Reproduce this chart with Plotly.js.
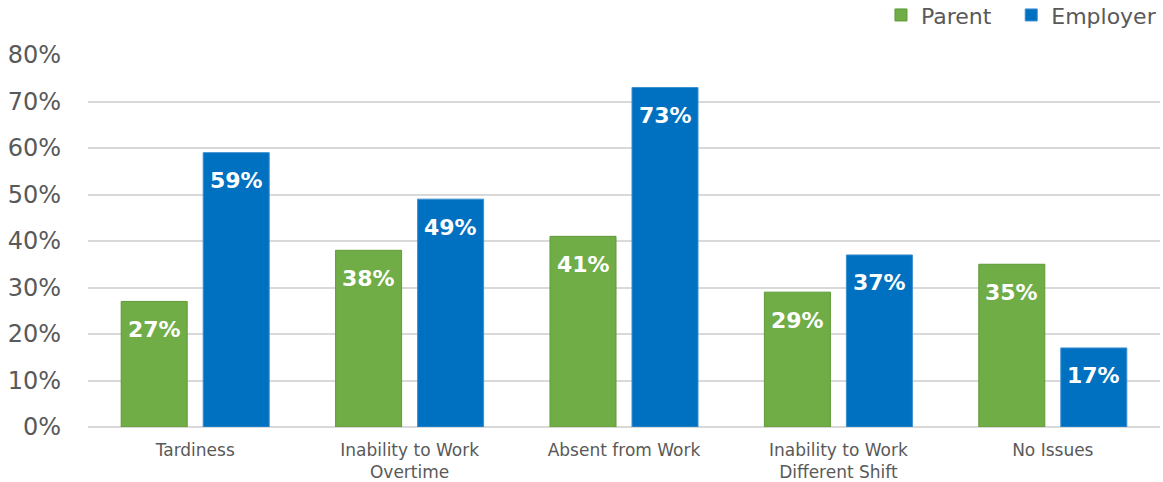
<!DOCTYPE html>
<html>
<head>
<meta charset="utf-8">
<script src="https://cdn.plot.ly/plotly-3.0.1.min.js"></script>
<style>html,body{margin:0;padding:0;background:#fff;}#chart{width:1163px;height:482px;}</style>
</head>
<body>
<div id="chart"></div>
<script>
const categories = ["Tardiness", "Inability to Work<br>Overtime", "Absent from Work", "Inability to Work<br>Different Shift", "No Issues"];
const parentValues = [27, 38, 41, 29, 35];
const employerValues = [59, 49, 73, 37, 17];
const seriesNames = ["Parent", "Employer"];
const yTickValues = [0, 10, 20, 30, 40, 50, 60, 70, 80];

const FONT = "DejaVu Sans, sans-serif";
const green = "#70AD47";
const blue = "#0070C0";

const traces = [
  {type: "bar", name: seriesNames[0], x: categories, y: parentValues, legend: "legend",
   marker: {color: green, line: {color: "#5E9A36", width: 1}}, hoverinfo: "skip"},
  {type: "bar", name: seriesNames[1], x: categories, y: employerValues, legend: "legend2",
   marker: {color: blue, line: {color: "#3A8FD0", width: 1}}, hoverinfo: "skip"}
];

const annotations = [];
[parentValues, employerValues].forEach((vals, si) => {
  vals.forEach((v, i) => {
    annotations.push({
      x: categories[i], y: v, xref: "x", yref: "y",
      text: v + "%", showarrow: false,
      xshift: si === 0 ? -41 : 41, yshift: -28, yanchor: "middle",
      font: {family: FONT, size: 22, color: "#ffffff", weight: 600}
    });
  });
});

const legendBase = {orientation: "h", xanchor: "left", xref: "container", y: 0.925, yanchor: "bottom",
  yref: "container", font: {family: FONT, size: 22, color: "#595959"}, itemwidth: 30, bgcolor: "rgba(0,0,0,0)"};

const layout = {
  width: 1163, height: 482,
  margin: {l: 88, r: 3, t: 55, b: 55},
  paper_bgcolor: "#fff", plot_bgcolor: "#fff",
  barmode: "group", bargap: 0.235, bargroupgap: 0.195,
  showlegend: true,
  legend: Object.assign({}, legendBase, {x: 0.7575}),
  legend2: Object.assign({}, legendBase, {x: 0.8695}),
  xaxis: {tickfont: {family: FONT, size: 17, color: "#595959"}, showgrid: false,
          showline: false, ticks: "", ticklabelstandoff: 11, fixedrange: true},
  yaxis: {range: [0, 80], tickvals: yTickValues, ticktext: yTickValues.map(v => v + "%"),
          tickfont: {family: FONT, size: 24, color: "#595959"},
          gridcolor: "#D9D9D9", gridwidth: 2, zeroline: true, zerolinecolor: "#D9D9D9", zerolinewidth: 2,
          showline: false, ticks: "", ticklabelstandoff: 26, fixedrange: true},
  annotations: annotations
};
Plotly.newPlot("chart", traces, layout, {displayModeBar: false, staticPlot: true});
</script>
</body>
</html>
